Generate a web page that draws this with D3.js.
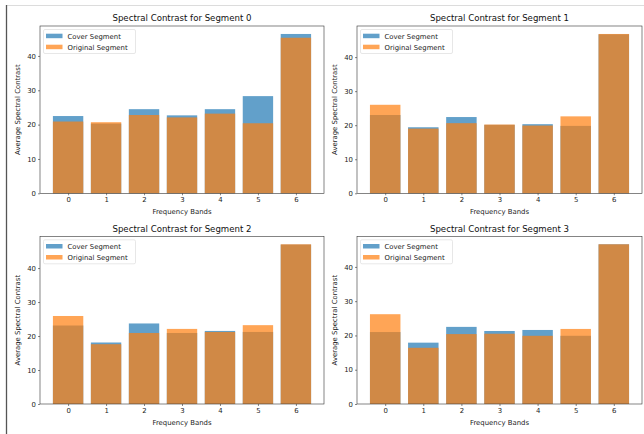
<!DOCTYPE html>
<html><head><meta charset="utf-8">
<script src="https://cdn.jsdelivr.net/npm/d3@7"></script>
<style>html,body{margin:0;padding:0;background:#fff;}svg{display:block;font-family:"DejaVu Sans",sans-serif;}</style>
</head><body>
<svg id="c" width="644" height="434"></svg>
<script>
const bands = [0, 1, 2, 3, 4, 5, 6];
const segmentTitles = ["Spectral Contrast for Segment 0","Spectral Contrast for Segment 1","Spectral Contrast for Segment 2","Spectral Contrast for Segment 3"];
const seriesNames = ["Cover Segment", "Original Segment"];
const cover0 = [22.5, 20.3, 24.5, 22.7, 24.5, 28.3, 46.4];
const orig0  = [20.9, 20.7, 22.8, 22.1, 23.2, 20.4, 45.3];
const cover1 = [23.0, 19.4, 22.4, 20.1, 20.3, 19.8, 46.7];
const orig1  = [26.0, 19.0, 20.6, 20.2, 19.9, 22.6, 46.8];
const cover2 = [23.1, 18.1, 23.7, 20.9, 21.5, 21.2, 46.9];
const orig2  = [25.9, 17.6, 20.9, 22.1, 21.2, 23.2, 47.0];
const cover3 = [21.0, 17.9, 22.5, 21.3, 21.6, 19.9, 46.6];
const orig3  = [26.2, 16.4, 20.4, 20.5, 19.9, 21.9, 46.6];
const yTicks = [0, 10, 20, 30, 40];
const xLabel = "Frequency Bands";
const yLabel = "Average Spectral Contrast";

const covers = [cover0, cover1, cover2, cover3];
const origs = [orig0, orig1, orig2, orig3];
const colors = ["#1f77b4", "#ff7f0e"];

const svg = d3.select("#c");
// notebook frame lines
svg.append("line").attr("x1",7).attr("x2",644).attr("y1",5.5).attr("y2",5.5).attr("stroke","#dcdcdc").attr("stroke-width",1);
svg.append("line").attr("x1",6.5).attr("x2",6.5).attr("y1",5).attr("y2",434).attr("stroke","#555").attr("stroke-width",1.3);

const boxes = [
  {l:40, r:324, t:26, b:193.3},
  {l:357, r:642, t:26, b:193.3},
  {l:40, r:324, t:236.3, b:404},
  {l:357, r:642, t:236.3, b:404}
];
const FS = 6.9, TFS = 8.6;

boxes.forEach((bx, i) => {
  const g = svg.append("g");
  const cv = covers[i], og = origs[i];
  const ymax = d3.max(cv.concat(og)) * 1.05;
  const x = d3.scaleLinear().domain([-0.74, 6.74]).range([bx.l, bx.r]);
  const y = d3.scaleLinear().domain([0, ymax]).range([bx.b, bx.t]);
  const w = x(0.8) - x(0);
  [cv, og].forEach((vals, si) => {
    g.selectAll(null).data(bands).enter().append("rect")
      .attr("x", d => x(d - 0.4)).attr("width", w)
      .attr("y", d => y(vals[d])).attr("height", d => y(0) - y(vals[d]))
      .attr("fill", colors[si]).attr("fill-opacity", 0.7);
  });
  // axes
  const xa = g.append("g").attr("transform", `translate(0,${bx.b})`)
    .call(d3.axisBottom(x).tickValues(bands).tickSize(2).tickPadding(2).tickFormat(d3.format("d")));
  const ya = g.append("g").attr("transform", `translate(${bx.l},0)`)
    .call(d3.axisLeft(y).tickValues(yTicks).tickSize(2).tickPadding(2).tickFormat(d3.format("d")));
  [xa, ya].forEach(a => {
    a.select(".domain").remove();
    a.selectAll("line").attr("stroke", "#333").attr("stroke-width", 0.6);
    a.selectAll("text").attr("font-size", FS).attr("fill", "#222").attr("font-family", "DejaVu Sans");
  });
  // frame
  g.append("rect").attr("x", bx.l).attr("y", bx.t).attr("width", bx.r - bx.l).attr("height", bx.b - bx.t)
    .attr("fill", "none").attr("stroke", "#333").attr("stroke-width", 0.6);
  // title
  g.append("text").attr("x", (bx.l + bx.r) / 2).attr("y", bx.t - 4.6).attr("text-anchor", "middle")
    .attr("font-size", TFS).attr("fill", "#111").text(segmentTitles[i]);
  // labels
  g.append("text").attr("x", (bx.l + bx.r) / 2).attr("y", bx.b + 21).attr("text-anchor", "middle")
    .attr("font-size", FS).attr("fill", "#222").text(xLabel);
  g.append("text").attr("transform", `translate(${bx.l - 20},${(bx.t + bx.b) / 2}) rotate(-90)`)
    .attr("text-anchor", "middle").attr("font-size", FS).attr("fill", "#222").text(yLabel);
  // legend
  const lg = g.append("g").attr("transform", `translate(${bx.l + 3.5},${bx.t + 3.5})`);
  lg.append("rect").attr("width", 92).attr("height", 24).attr("rx", 1.5)
    .attr("fill", "#fff").attr("fill-opacity", 0.8).attr("stroke", "#d6d6d6").attr("stroke-width", 0.6);
  seriesNames.forEach((nm, k) => {
    const cy = 6.5 + k * 11;
    lg.append("rect").attr("x", 2.5).attr("y", cy - 2.3).attr("width", 16.5).attr("height", 4.5)
      .attr("fill", colors[k]).attr("fill-opacity", 0.7);
    lg.append("text").attr("x", 24).attr("y", cy + 2.5).attr("font-size", FS).attr("fill", "#222").text(nm);
  });
});
</script>
</body></html>
